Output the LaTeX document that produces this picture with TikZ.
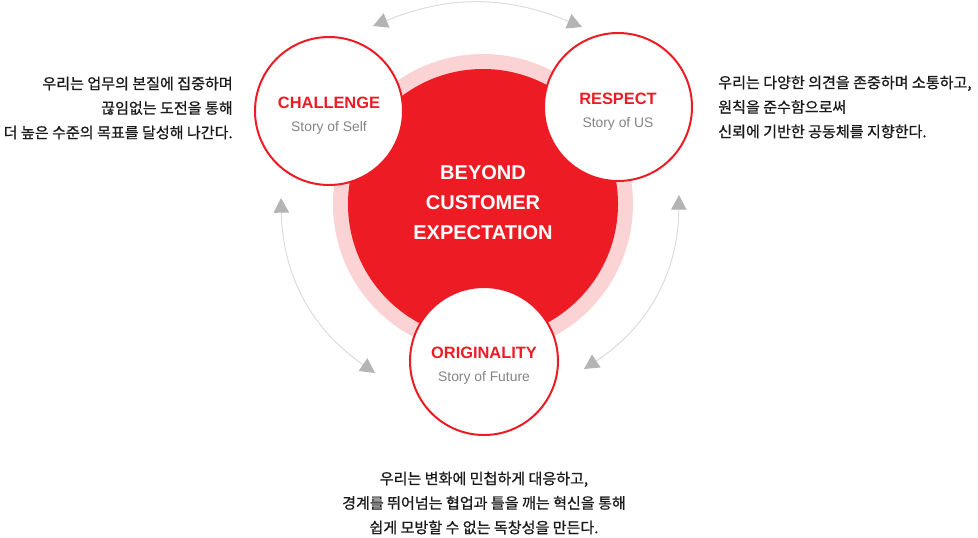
\documentclass[tikz,border=0pt]{standalone}
\usepackage{fontspec}
\setmainfont{Liberation Sans}
\newfontfamily\kofont[FakeBold=0.9]{Noto Sans CJK KR}
\usetikzlibrary{arrows.meta}
\definecolor{brandred}{HTML}{ED1C24}
\definecolor{ringpink}{HTML}{FBD3D5}
\definecolor{tipgray}{HTML}{B4B4B4}
\definecolor{linegray}{HTML}{DCDCDC}
\definecolor{subgray}{HTML}{858585}
\definecolor{inkdark}{HTML}{1A1A1A}
\tikzset{
	pillar/.style={circle, draw=brandred, line width=1.5pt, fill=white, minimum size=111pt, inner sep=0pt, align=center},
	motto/.style={font=\kofont\fontsize{11.3}{18.4}\selectfont, text=inkdark, inner sep=0pt},
	loopline/.style={draw=linegray, line width=0.75pt, {Triangle[length=11pt,width=11.5pt,color=tipgray]}-{Triangle[length=11pt,width=11.5pt,color=tipgray]}}
}
\newcommand{\pillartext}[2]{{\rule{0pt}{15.6pt}\fontsize{12.3}{19}\selectfont\bfseries\color{brandred}#1}\\[5.5pt]{\fontsize{10.4}{19}\selectfont\color{subgray}#2}}

\begin{document}
\begin{tikzpicture}[x=0.75pt,y=-0.75pt]
			%%%%% START %%%%%
			\useasboundingbox (0,0) rectangle (978,537);
			
			\coordinate (core) at (483,204);
			
			\fill[ringpink] (core) circle (150);
			\fill[brandred] (core) circle (135);
			\node[align=center, text=white, font=\fontsize{15}{22.5}\selectfont\bfseries] (beyond) at (483,203) {BEYOND\\CUSTOMER\\EXPECTATION};
			
			% arrow tips round the core
			\coordinate (tl) at (373,26);
			\coordinate (tr) at (582,27);
			\coordinate (lt) at (281,198);
			\coordinate (lb) at (375,373);
			\coordinate (rt) at (679,195);
			\coordinate (rb) at (584,369);
			
			\draw[loopline] (tl) to[bend left=22.5] (tr);
			\draw[loopline] (lt) to[bend right=27] (lb);
			\draw[loopline] (rt) to[bend left=28] (rb);
			
			\node[pillar] (challenge) at (329,111) {\pillartext{CHALLENGE}{Story of Self}};
			\node[pillar] (respect) at (618,107) {\pillartext{RESPECT}{Story of US}};
			\node[pillar] (originality) at (484,361) {\pillartext{ORIGINALITY}{Story of Future}};
			
			\node[motto, anchor=east, align=right] (selftext) at (233,108) {우리는 업무의 본질에 집중하며\\끊임없는 도전을 통해 \\더 높은 수준의 목표를 달성해 나간다.};
			\node[motto, anchor=west, align=left] (ustext) at (718,107) {우리는 다양한 의견을 존중하며 소통하고,\\원칙을 준수함으로써\\신뢰에 기반한 공동체를 지향한다.};
			\node[motto, align=center] (futuretext) at (484,503) {우리는 변화에 민첩하게 대응하고,\\경계를 뛰어넘는 협업과 틀을 깨는 혁신을 통해\\쉽게 모방할 수 없는 독창성을 만든다.};
			%%%%% END %%%%%
\end{tikzpicture}
\end{document}
